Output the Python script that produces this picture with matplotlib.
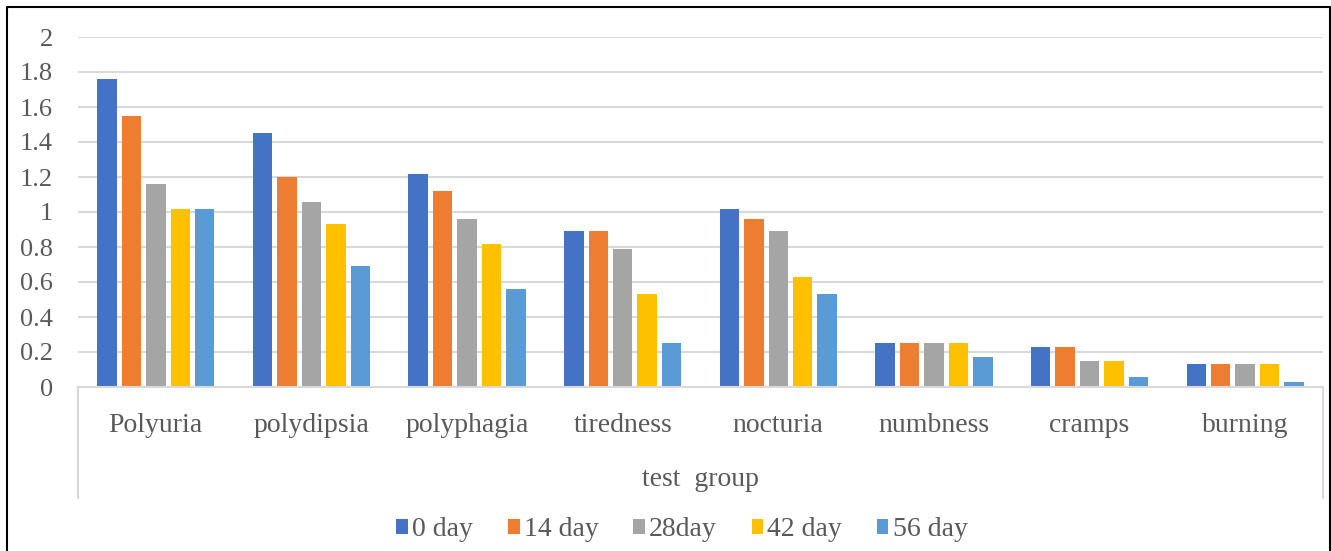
import numpy as np
import matplotlib.pyplot as plt
from matplotlib.lines import Line2D
from matplotlib.patches import Patch

categories = ['Polyuria', 'polydipsia', 'polyphagia', 'tiredness',
              'nocturia', 'numbness', 'cramps', 'burning']
series_names = ['0 day', '14 day', '28day', '42 day', '56 day']
day0 = [1.76, 1.45, 1.22, 0.89, 1.02, 0.25, 0.23, 0.13]
day14 = [1.55, 1.20, 1.12, 0.89, 0.96, 0.25, 0.23, 0.13]
day28 = [1.16, 1.06, 0.96, 0.79, 0.89, 0.25, 0.15, 0.13]
day42 = [1.02, 0.93, 0.82, 0.53, 0.63, 0.25, 0.15, 0.13]
day56 = [1.02, 0.69, 0.56, 0.25, 0.53, 0.17, 0.06, 0.03]
yticks = [0, 0.2, 0.4, 0.6, 0.8, 1, 1.2, 1.4, 1.6, 1.8, 2]

colors = ['#4472C4', '#ED7D31', '#A5A5A5', '#FFC000', '#5B9BD5']
txt = '#595959'
grid = '#D9D9D9'

plt.rcParams['font.family'] = ['Liberation Serif', 'DejaVu Serif']

W, H = 1331, 551
fig = plt.figure(figsize=(W / 100, H / 100), dpi=100)
ax = fig.add_axes([78 / W, 1 - 387 / H, (1323 - 78) / W, (387 - 37) / H])

x = np.arange(len(categories))
step = 0.157
for i, (name, vals) in enumerate(zip(series_names, [day0, day14, day28, day42, day56])):
    ax.bar(x + (i - 2) * step, vals, width=0.125, color=colors[i], label=name, zorder=3)

ax.set_xlim(-0.5, len(categories) - 0.5)
ax.set_ylim(0, 2)
ax.set_yticks(yticks)
ax.set_yticklabels(['%g' % v for v in yticks], fontsize=19, color=txt)
ax.set_xticks(x)
ax.set_xticklabels(categories, fontsize=20, color=txt)
ax.tick_params(axis='y', length=0, pad=18)
ax.tick_params(axis='x', length=0, pad=19)
ax.grid(axis='y', color=grid, linewidth=1.5, zorder=0)
for s in ['top', 'left', 'right']:
    ax.spines[s].set_visible(False)
ax.spines['bottom'].set_color(grid)
ax.spines['bottom'].set_linewidth(1.5)
ax.spines['bottom'].set_zorder(4)

# multi-level category axis box
for px in [78, 1323]:
    fig.add_artist(Line2D([px / W, px / W], [1 - 387 / H, 1 - 498 / H], color=grid, linewidth=1.5))

fig.text(700 / W, 1 - 480 / H, 'test  group', fontsize=20, color=txt, ha='center', va='center')

handles = [Patch(facecolor=c, edgecolor='none') for c in colors]
fig.legend(handles, series_names, loc='center', bbox_to_anchor=(682 / W, 1 - 530 / H),
           ncol=5, frameon=False, fontsize=20, labelcolor=txt, handlelength=0.42,
           handleheight=0.42, handletextpad=0.15, columnspacing=1.25)

# outer chart border
fig.add_artist(Line2D([7 / W, 7 / W, 1330 / W, 1330 / W], [0, 1 - 7 / H, 1 - 7 / H, 0],
                      color='black', linewidth=1.5))

fig.savefig('out.png', dpi=100)
